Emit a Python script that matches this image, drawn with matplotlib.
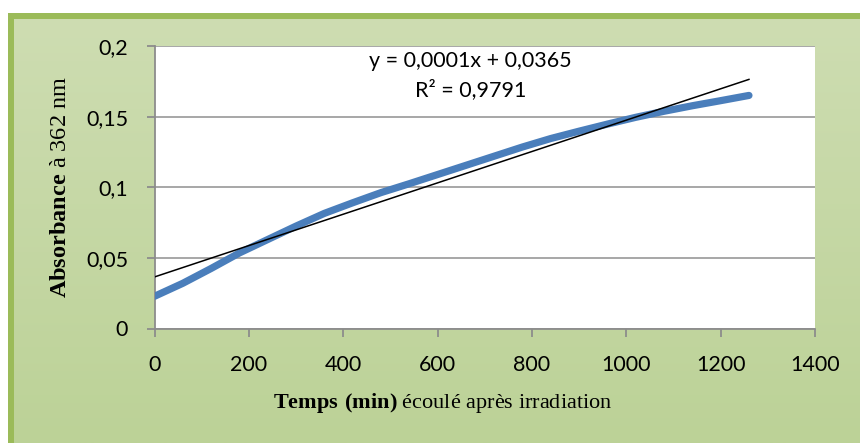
import numpy as np
import matplotlib
matplotlib.use("Agg")
from matplotlib import pyplot as plt
from matplotlib.patches import Rectangle
from matplotlib.ticker import FuncFormatter

# absorbance at 362 nm vs time after irradiation
temps = [0, 60, 120, 180, 240, 300, 360, 420, 480, 540, 600, 660, 720,
         780, 840, 900, 960, 1020, 1080, 1140, 1200, 1260]
absorbance = [0.0228, 0.032, 0.0425, 0.0535, 0.063, 0.0725, 0.0815, 0.089,
              0.0962, 0.1025, 0.109, 0.1155, 0.122, 0.1285, 0.1345, 0.1397,
              0.1447, 0.1495, 0.1538, 0.1577, 0.1613, 0.165]

# linear trend shown on the chart
trend_slope = 0.000111
trend_intercept = 0.0365
trend_label = "y = 0,0001x + 0,0365\nR² = 0,9791"

x_ticks = [0, 200, 400, 600, 800, 1000, 1200, 1400]
y_ticks = [0, 0.05, 0.1, 0.15, 0.2]

plt.rcParams["mathtext.fontset"] = "custom"
plt.rcParams["mathtext.rm"] = "Liberation Serif"
plt.rcParams["mathtext.bf"] = "Liberation Serif:bold"

W, H = 860, 443
fig = plt.figure(figsize=(W / 100, H / 100), dpi=100)
fig.patch.set_facecolor("white")

# green gradient panel with its border on top/left
bg = fig.add_axes([0, 0, 1, 1], zorder=0)
bg.set_xlim(0, W)
bg.set_ylim(H, 0)
bg.axis("off")
top_c = np.array([206, 221, 178]) / 255
bot_c = np.array([188, 210, 151]) / 255
t = np.linspace(0, 1, 256)[:, None]
grad = (top_c[None, :] * (1 - t) + bot_c[None, :] * t)[:, None, :]
bg.imshow(grad, extent=(8, W, H, 13), aspect="auto", interpolation="bilinear")
bg.add_patch(Rectangle((8, 13), W - 8, 6, color="#9bbb59", lw=0))
bg.add_patch(Rectangle((8, 13), 6, H - 13, color="#9bbb59", lw=0))

ax = fig.add_axes([154.5 / W, 1 - 328.5 / H, (815 - 154.5) / W, (328.5 - 46) / H], zorder=1)
ax.set_facecolor("white")

ax.set_xlim(0, 1400)
ax.set_ylim(0, 0.2)
ax.set_xticks(x_ticks)
ax.set_yticks(y_ticks)
fmt = FuncFormatter(lambda v, p: f"{v:g}".replace(".", ","))
ax.xaxis.set_major_formatter(fmt)
ax.yaxis.set_major_formatter(fmt)

ax.grid(axis="y", color="#a0a0a0", lw=1.3)
ax.set_axisbelow(True)
for s in ["top", "right"]:
    ax.spines[s].set_visible(False)
for s in ["left", "bottom"]:
    ax.spines[s].set_color("#8c8c8c")
    ax.spines[s].set_linewidth(1.3)
ax.tick_params(direction="out", length=6, width=1.3, color="#8c8c8c",
               labelsize=15.5, pad=13)
for lab in ax.get_xticklabels() + ax.get_yticklabels():
    lab.set_family("Lato")

ax.plot(temps, absorbance, color="#4a7ebb", lw=5.2, solid_capstyle="round",
        solid_joinstyle="round", zorder=3)
tx = np.array([temps[0], temps[-1]])
ax.plot(tx, trend_intercept + trend_slope * tx, color="black", lw=1.1, zorder=4)

ax.text(0.478, 0.895, trend_label, transform=ax.transAxes, ha="center", va="center",
        fontsize=15.5, family="Lato", linespacing=1.45)

fig.text(443 / W, 1 - 403 / H, r"$\mathbf{Temps\ (min)}$ écoulé après irradiation",
         ha="center", va="center", fontsize=16, family="Liberation Serif")
fig.text(61 / W, 1 - 187 / H, r"$\mathbf{Absorbance}$ à 362 nm", rotation=90,
         ha="center", va="center", fontsize=17.5, family="Liberation Serif")

fig.savefig("out.png", dpi=100)
